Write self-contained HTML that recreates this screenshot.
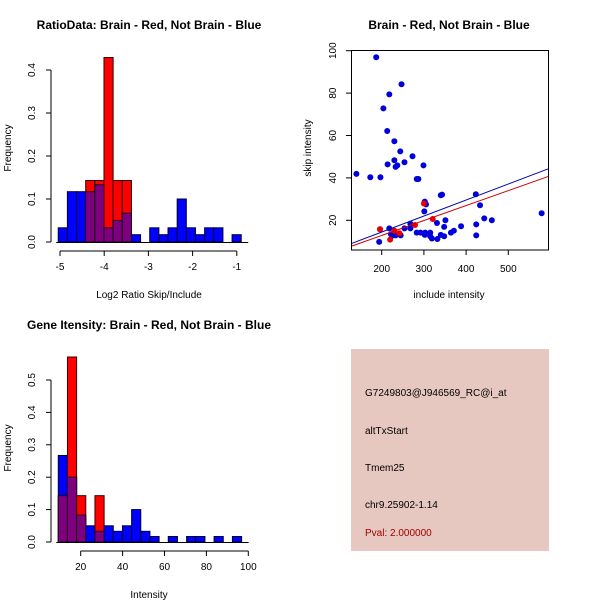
<!DOCTYPE html>
<html><head><meta charset="utf-8"><style>
body{margin:0;background:#fff}
svg{display:block;font-family:"Liberation Sans",sans-serif}
</style></head><body>
<svg id="c" width="600" height="600" xmlns="http://www.w3.org/2000/svg">
<rect width="600" height="600" fill="#fff"/>
<text x="149" y="29" font-size="12" font-weight="bold" text-anchor="middle">RatioData: Brain - Red, Not Brain - Blue</text>
<text x="449" y="29" font-size="12" font-weight="bold" text-anchor="middle">Brain - Red, Not Brain - Blue</text>
<text x="149" y="329" font-size="12" font-weight="bold" text-anchor="middle">Gene Itensity: Brain - Red, Not Brain - Blue</text>
<text x="149" y="298" font-size="10" text-anchor="middle">Log2 Ratio Skip/Include</text>
<text x="449" y="298" font-size="10" text-anchor="middle">include intensity</text>
<text x="149" y="598" font-size="10" text-anchor="middle">Intensity</text>
<text transform="translate(11,148) rotate(-90)" font-size="10" text-anchor="middle">Frequency</text>
<text transform="translate(311,148) rotate(-90)" font-size="10" text-anchor="middle">skip intensity</text>
<text transform="translate(11,448) rotate(-90)" font-size="10" text-anchor="middle">Frequency</text>
<rect x="351" y="349" width="198" height="202" fill="#e6c8c0"/>
<g font-size="10">
<text x="365" y="396">G7249803@J946569_RC@i_at</text>
<text x="365" y="434">altTxStart</text>
<text x="365" y="471">Tmem25</text>
<text x="365" y="508">chr9.25902-1.14</text>
<text x="365" y="536" fill="#a00000">Pval: 2.000000</text>
</g>
</svg>
<script>
// Ratio histogram data
const ratioBinStart=-5.04, ratioBinWidth=0.207;
const ratioBlue=[0.033,0.117,0.117,0.117,0.133,0.033,0.05,0.067,0.017,0,0.033,0.017,0.033,0.1,0.033,0.017,0.033,0.033,0,0.017];
const ratioRed=[0,0,0,0.143,0.143,0.429,0.143,0.143,0,0,0,0,0,0,0,0,0,0,0,0];
const ratioXTicks=[-5,-4,-3,-2,-1];
const ratioYTicks=[0,0.1,0.2,0.3,0.4];
// Intensity histogram data
const intBinStart=9.3, intBinWidth=4.375;
const intBlue=[0.267,0.2,0.083,0.05,0.033,0.05,0.033,0.05,0.1,0.033,0.017,0,0.017,0,0.017,0.017,0,0.017,0,0.017];
const intRed=[0.143,0.571,0.143,0,0.143,0,0,0,0,0,0,0,0,0,0,0,0,0,0,0];
const intXTicks=[20,40,60,80,100];
const intYTicks=[0,0.1,0.2,0.3,0.4,0.5];
// Scatter data
const blueX=[187,247,218,204,213,230,244,273,214,254,230,237,233,299,140,173,197,283,287,343,340,423,302,305,433,301,579,443,461,351,331,424,388,348,268,268,254,218,196,371,364,283,292,303,302,315,315,319,332,340,348,424,245,233,222,226,194];
const blueY=[96.9,84.2,79.4,72.8,62.1,57.3,52.5,50.2,46.4,47.4,48.3,45.9,45.2,45.9,41.9,40.3,40.3,39.5,39.5,32.1,31.8,32.3,28.8,27.5,27.1,24.2,23.3,20.9,20,20,18.7,18.1,17.2,16.9,18.4,16.2,16.2,16.2,15.8,15.1,14.2,14.2,14.2,14.2,13.1,14.2,12.5,11.4,11.2,13.1,12.5,12.9,12.9,12.9,13.4,12.8,9.8];
const redX=[196,230,220,321,279,300,242];
const redY=[15.8,15.1,10.9,20.6,17.8,27.9,13.9];
const blueFit=[-0.63,0.0755];
const redFit=[-1.25,0.0705];
const scatXTicks=[200,300,400,500];
const scatYTicks=[20,40,60,80,100];

const svg=document.getElementById('c');
const NS='http://www.w3.org/2000/svg';
function mk(tag,a){const e=document.createElementNS(NS,tag);for(const k in a)e.setAttribute(k,a[k]);svg.appendChild(e);return e;}

function hist(pfx,bs,bw,blue,red,xt,yt,xs,ys,axY,axX){
  const n=blue.length;
  for(let i=0;i<n;i++){
    const x0=xs(bs+i*bw),x1=xs(bs+(i+1)*bw);
    if(blue[i]>0){const r=mk('rect',{x:x0,y:ys(blue[i]),width:x1-x0,height:ys(0)-ys(blue[i]),fill:'#0000ff',stroke:'#000033','stroke-width':1});
      
      }
    if(red[i]>0){const r=mk('rect',{x:x0,y:ys(red[i]),width:x1-x0,height:ys(0)-ys(red[i]),fill:'#ff0000',stroke:'#330000','stroke-width':1});
      
      }
    const m=Math.min(blue[i],red[i]);
    if(m>0){const r=mk('rect',{x:x0,y:ys(m),width:x1-x0,height:ys(0)-ys(m),fill:'#7f007f',stroke:'#200020','stroke-width':1});
      
      }
  }
  const base=mk('line',{x1:xs(bs)-2,x2:xs(bs+n*bw)+7,y1:ys(0)+0.5,y2:ys(0)+0.5,stroke:'#000'});
  
  
  const ax=mk('line',{x1:xs(xt[0]),x2:xs(xt[xt.length-1]),y1:axX,y2:axX,stroke:'#000'});
  
  
  xt.forEach(v=>{mk('line',{x1:xs(v),x2:xs(v),y1:axX,y2:axX+5,stroke:'#000'});
    const t=mk('text',{x:xs(v),y:axX+19,'font-size':10,'text-anchor':'middle'});t.textContent=v;
    
    });
  const ay=mk('line',{x1:axY,x2:axY,y1:ys(yt[0]),y2:ys(yt[yt.length-1]),stroke:'#000'});
  
  
  yt.forEach(v=>{mk('line',{x1:axY-5,x2:axY,y1:ys(v),y2:ys(v),stroke:'#000'});
    const t=mk('text',{transform:`translate(${axY-16},${ys(v)}) rotate(-90)`,'font-size':10,'text-anchor':'middle'});t.textContent=v.toFixed(1);
    
    });
}
hist('ratio',ratioBinStart,ratioBinWidth,ratioBlue,ratioRed,ratioXTicks,ratioYTicks,
  v=>60+(v+5)*44.2, v=>242-v*430, 51, 251);
hist('intensity',intBinStart,intBinWidth,intBlue,intRed,intXTicks,intYTicks,
  v=>80.7+(v-20)*2.095, v=>542-v*324, 51, 551);

// scatter
const sx=v=>381.7+(v-200)*0.422, sy=v=>220.3-(v-20)*2.12;
const box=mk('rect',{x:351.5,y:50.5,width:197,height:199.5,fill:'none',stroke:'#000'});


blueX.forEach((x,i)=>{const c=mk('circle',{cx:sx(x),cy:sy(blueY[i]),r:3,fill:'#0000dd'});
  
  });
redX.forEach((x,i)=>{const c=mk('circle',{cx:sx(x),cy:sy(redY[i]),r:3,fill:'#ee0000'});
  
  });
const x0=129.6,x1=594;
const bl=mk('line',{x1:sx(x0),x2:sx(x1),y1:sy(blueFit[0]+blueFit[1]*x0),y2:sy(blueFit[0]+blueFit[1]*x1),stroke:'#0000aa'});


const rl=mk('line',{x1:sx(x0),x2:sx(x1),y1:sy(redFit[0]+redFit[1]*x0),y2:sy(redFit[0]+redFit[1]*x1),stroke:'#cc0000'});


scatXTicks.forEach(v=>{mk('line',{x1:sx(v),x2:sx(v),y1:250,y2:255,stroke:'#000'});
  const t=mk('text',{x:sx(v),y:272,'font-size':10,'text-anchor':'middle'});t.textContent=v;
  
  });
scatYTicks.forEach(v=>{mk('line',{x1:346,x2:351.5,y1:sy(v),y2:sy(v),stroke:'#000'});
  const t=mk('text',{transform:`translate(336,${sy(v)}) rotate(-90)`,'font-size':10,'text-anchor':'middle'});t.textContent=v;
  
  });
</script>
</body></html>
